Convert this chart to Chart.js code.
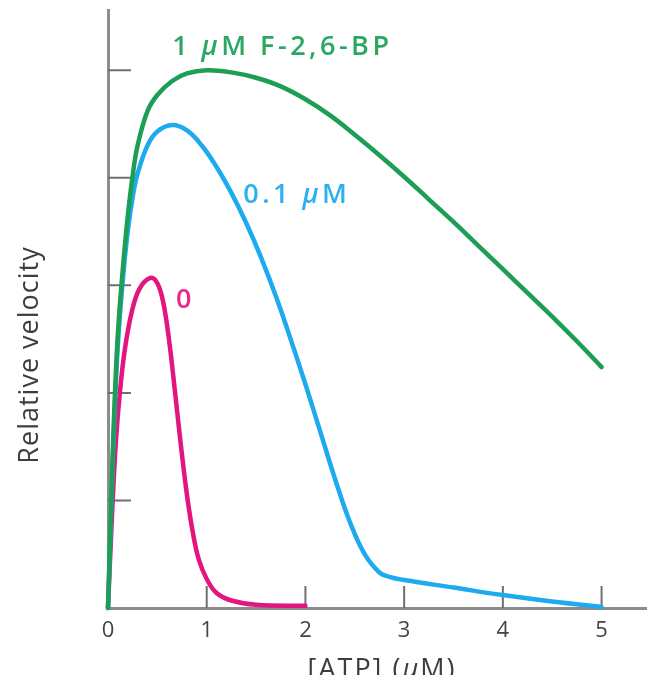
<!DOCTYPE html>
<html>
<head>
<meta charset="utf-8">
<script src="https://cdn.jsdelivr.net/npm/chart.js@4.4.1/dist/chart.umd.min.js"></script>
<style>
  html, body { margin: 0; padding: 0; background: #fff; }
  canvas { display: block; }
</style>
</head>
<body>
<canvas id="atpChart" width="654" height="675"></canvas>
<script>
// tick values
const xTicks = [0, 1, 2, 3, 4, 5];
const yTickMarks = [1, 2, 3, 4, 5];

// 1 uM F-2,6-BP
const atpHigh = [0, 0.03, 0.06, 0.1, 0.15, 0.2, 0.25, 0.3, 0.4, 0.5, 0.65, 0.8, 1.0, 1.25, 1.5, 1.75, 2.0, 2.25, 2.5, 2.75, 3.0, 3.25, 3.5, 3.75, 4.0, 4.25, 4.5, 4.75, 5.0];
const velHigh = [0, 0.9, 1.75, 2.55, 3.15, 3.64, 4.02, 4.3, 4.62, 4.77, 4.9, 4.97, 5.0, 4.98, 4.93, 4.85, 4.73, 4.58, 4.4, 4.21, 4.01, 3.8, 3.59, 3.37, 3.15, 2.93, 2.71, 2.48, 2.24];

// 0.1 uM
const atpMid = [0, 0.03, 0.06, 0.1, 0.15, 0.2, 0.25, 0.3, 0.4, 0.5, 0.65, 0.8, 0.95, 1.1, 1.25, 1.4, 1.55, 1.7, 1.85, 2.0, 2.15, 2.3, 2.45, 2.6, 2.75, 2.85, 3.0, 3.5, 4.0, 4.5, 5.0];
const velMid = [0, 0.85, 1.65, 2.45, 3.05, 3.5, 3.82, 4.04, 4.3, 4.43, 4.49, 4.44, 4.3, 4.1, 3.86, 3.58, 3.26, 2.9, 2.5, 2.08, 1.64, 1.2, 0.8, 0.5, 0.33, 0.29, 0.26, 0.19, 0.12, 0.06, 0.01];

// 0 (no F-2,6-BP)
const atpZero = [0, 0.04, 0.08, 0.12, 0.17, 0.24, 0.32, 0.43, 0.5, 0.56, 0.62, 0.68, 0.74, 0.8, 0.86, 0.92, 1.0, 1.1, 1.25, 1.5, 2.0];
const velZero = [0, 0.85, 1.55, 2.0, 2.4, 2.75, 2.97, 3.07, 3.02, 2.84, 2.48, 2.0, 1.5, 1.05, 0.7, 0.45, 0.27, 0.14, 0.07, 0.03, 0.02];

const seriesLabels = ['1 μM F-2,6-BP', '0.1 μM', '0'];
const labelAnchorX = [0.65, 1.37, 0.69];
const labelAnchorY = [5.21, 3.84, 2.86];
const seriesColors = ['#1c9e55', '#1eaaee', '#e3157f'];
const textColors = ['#2aa862', '#2cb0f0', '#e8288c'];

const toPoints = (xs, ys) => xs.map((x, i) => ({ x: x, y: ys[i] }));

const FONT = '"Open Sans", "Noto Sans", sans-serif';

// draw text with the mu in italic
function drawMuText(ctx, text, x, y, size, weight) {
  const parts = text.split(/(μ)/).filter(p => p.length);
  const fontFor = p => (p === 'μ' ? 'italic ' : '') + weight + ' ' + size + 'px ' + FONT;
  let total = 0;
  const widths = parts.map(p => {
    ctx.font = fontFor(p);
    const w = ctx.measureText(p).width;
    total += w;
    return w;
  });
  let cx = x;
  if (ctx.textAlign === 'center') { cx = x - total / 2; }
  const align = ctx.textAlign;
  ctx.textAlign = 'left';
  parts.forEach((p, i) => {
    ctx.font = fontFor(p);
    ctx.fillText(p, cx, y);
    cx += widths[i];
  });
  ctx.textAlign = align;
}

const decorations = {
  id: 'decorations',
  beforeDatasetsDraw(chart) {
    const { ctx, chartArea, scales } = chart;
    ctx.save();
    ctx.strokeStyle = '#707070';
    ctx.lineWidth = 2;
    ctx.beginPath();
    xTicks.forEach(v => {
      if (v === 0) return;
      const px = scales.x.getPixelForValue(v);
      ctx.moveTo(px, chartArea.bottom);
      ctx.lineTo(px, chartArea.bottom - 22);
    });
    yTickMarks.forEach(v => {
      const py = scales.y.getPixelForValue(v);
      ctx.moveTo(chartArea.left, py);
      ctx.lineTo(chartArea.left + 23, py);
    });
    ctx.stroke();
    ctx.restore();
  },
  afterDraw(chart) {
    const { ctx, scales } = chart;
    ctx.save();
    ctx.letterSpacing = '3.5px';
    ctx.textBaseline = 'middle';
    ctx.textAlign = 'left';
    seriesLabels.forEach((t, i) => {
      ctx.fillStyle = textColors[i];
      drawMuText(ctx, t, scales.x.getPixelForValue(labelAnchorX[i]), scales.y.getPixelForValue(labelAnchorY[i]), 27, 600);
    });

    // axis titles
    ctx.fillStyle = '#3d3d3d';
    ctx.letterSpacing = '2px';
    ctx.textBaseline = 'alphabetic';
    ctx.textAlign = 'center';
    drawMuText(ctx, '[ATP] (μM)', 382, 678, 27, 500);

    ctx.letterSpacing = '1px';
    ctx.translate(38, 355);
    ctx.rotate(-Math.PI / 2);
    drawMuText(ctx, 'Relative velocity', 0, 0, 27, 500);
    ctx.restore();
  }
};

new Chart(document.getElementById('atpChart'), {
  type: 'line',
  data: {
    datasets: [
      { label: '1 μM F-2,6-BP', data: toPoints(atpHigh, velHigh), borderColor: seriesColors[0] },
      { label: '0.1 μM', data: toPoints(atpMid, velMid), borderColor: seriesColors[1] },
      { label: '0', data: toPoints(atpZero, velZero), borderColor: seriesColors[2] }
    ]
  },
  options: {
    responsive: false,
    animation: false,
    devicePixelRatio: 1,
    layout: { padding: { top: 10, right: 8, left: 0, bottom: 0 } },
    elements: {
      point: { radius: 0 },
      line: { borderWidth: 4.5, tension: 0.4, fill: false, borderCapStyle: 'round', borderJoinStyle: 'round' }
    },
    datasets: { line: { clip: false } },
    plugins: { legend: { display: false }, tooltip: { enabled: false } },
    scales: {
      x: {
        type: 'linear',
        min: 0,
        max: 5.45,
        afterBuildTicks: s => { s.ticks = xTicks.map(v => ({ value: v })); },
        afterFit: s => { s.height = 67; },
        grid: { display: false, drawTicks: false },
        border: { display: true, color: '#8c8c8c', width: 3 },
        ticks: { padding: 10, color: '#444', font: { family: FONT, size: 22, weight: 500 } }
      },
      y: {
        type: 'linear',
        min: 0,
        max: 5.56,
        afterBuildTicks: s => { s.ticks = yTickMarks.map(v => ({ value: v })); },
        afterFit: s => { s.width = 108; },
        grid: { display: false, drawTicks: false },
        border: { display: true, color: '#8c8c8c', width: 3 },
        ticks: { display: false }
      }
    }
  },
  plugins: [decorations]
});
</script>
</body>
</html>
